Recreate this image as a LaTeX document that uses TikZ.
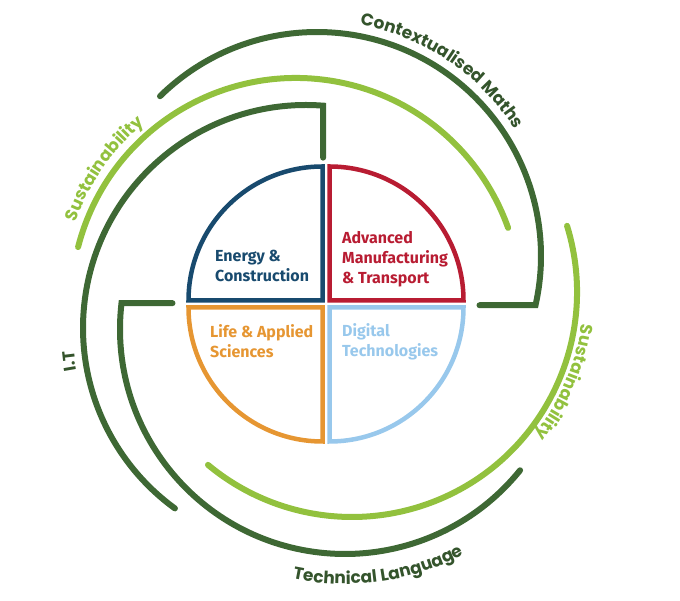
\documentclass[tikz,border=0pt]{standalone}
\usepackage{fontspec}
\setmainfont{Fira Sans}
\newfontfamily\ringfont{Poppins}
\usetikzlibrary{calc,decorations.text}

\definecolor{ringdark}{RGB}{62,104,52}
\definecolor{ringlight}{RGB}{146,193,62}
\definecolor{labeldark}{RGB}{52,84,44}
\definecolor{energyblue}{RGB}{24,74,110}
\definecolor{advred}{RGB}{184,28,50}
\definecolor{lifeorange}{RGB}{230,150,50}
\definecolor{digiblue}{RGB}{152,200,236}

\newcommand{\ringtext}{\ringfont\bfseries\fontsize{17}{20}\selectfont}

\begin{document}
\begin{tikzpicture}[
  x=1pt, y=1pt,
  darkring/.style={
    draw=ringdark,
    line width=6pt,
    line cap=round
  },
  lightring/.style={
    draw=ringlight,
    line width=6pt,
    line cap=round
  },
  quarter/.style={
    line width=4.5pt,
    line join=miter
  },
  quadlabel/.style={
    anchor=west,
    align=left,
    inner sep=0pt,
    font=\bfseries\fontsize{16}{20}\selectfont
  }]
  \useasboundingbox (0,0) rectangle (680,601);
  % centres of the rings
  \coordinate (hub) at (326,297);
  \coordinate (maths) at (317,345);
  \coordinate (sustop) at (296,298);
  \coordinate (lang) at (345,272);
  \coordinate (itring) at (306,273);
  \coordinate (susright) at (352,309);
  % outer rings
  \draw[darkring] ($(maths)+(134.5:224)$) arc[start angle=134.5, end angle=-12.7, radius=224] -- ++(-56,0);
  \draw[lightring] ($(sustop)+(165.6:225)$) arc[start angle=165.6, end angle=19.5, radius=225];
  \draw[darkring] ($(lang)+(173.4:225)+(51,0)$) -- ++(-51,0) arc[start angle=173.4, end angle=321.1, radius=225];
  \draw[darkring] ($(itring)+(85.6:223)+(0,-52)$) -- ++(0,52) arc[start angle=85.6, end angle=234, radius=223];
  \draw[lightring] ($(susright)+(17.1:225)$) arc[start angle=17.1, end angle=-129.8, radius=225];
  % ring labels
  \path[decorate, decoration={text along path, text align=center,
    text={|\ringtext\color{labeldark}|Contextualised Maths}}]
    ($(maths)+(86:235)$) arc[start angle=86, end angle=26, radius=235];
  \path[decorate, decoration={text along path, text align=center,
    text={|\ringtext\color{ringlight}|Sustainability}}]
    ($(sustop)+(170:235)$) arc[start angle=170, end angle=120, radius=235];
  \path[decorate, decoration={text along path, text align=center,
    text={|\ringtext\color{ringlight}|Sustainability}}]
    ($(susright)+(7:232)$) arc[start angle=7, end angle=-53, radius=232];
  \path[decorate, decoration={text along path, text align=center,
    text={|\ringtext\color{labeldark}|I.T}}]
    ($(itring)+(203:233)$) arc[start angle=203, end angle=173, radius=233];
  \path[decorate, decoration={text along path, text align=center,
    text={|\ringtext\color{labeldark}|Technical Language}}]
    ($(lang)+(248:255)$) arc[start angle=248, end angle=308, radius=255];
  % quarters
  \draw[quarter, draw=energyblue] ($(hub)+(-3.5,3.5)$) -- ++(-134,0) arc[start angle=180, end angle=90, radius=134] -- cycle;
  \draw[quarter, draw=advred] ($(hub)+(3.5,3.5)$) -- ++(0,134) arc[start angle=90, end angle=0, radius=134] -- cycle;
  \draw[quarter, draw=lifeorange] ($(hub)+(-3.5,-3.5)$) -- ++(-134,0) arc[start angle=180, end angle=270, radius=134] -- cycle;
  \draw[quarter, draw=digiblue] ($(hub)+(3.5,-3.5)$) -- ++(134,0) arc[start angle=0, end angle=-90, radius=134] -- cycle;
  % quarter labels
  \node[quadlabel, text=energyblue] (energy) at (215,335.5) {Energy \&\\Construction};
  \node[quadlabel, text=advred] (advanced) at (342,342) {Advanced\\Manufacturing\\\& Transport};
  \node[quadlabel, text=lifeorange] (life) at (210,260) {Life \& Applied\\Sciences};
  \node[quadlabel, text=digiblue] (digital) at (342,259) {Digital\\Technologies};
\end{tikzpicture}
\end{document}
